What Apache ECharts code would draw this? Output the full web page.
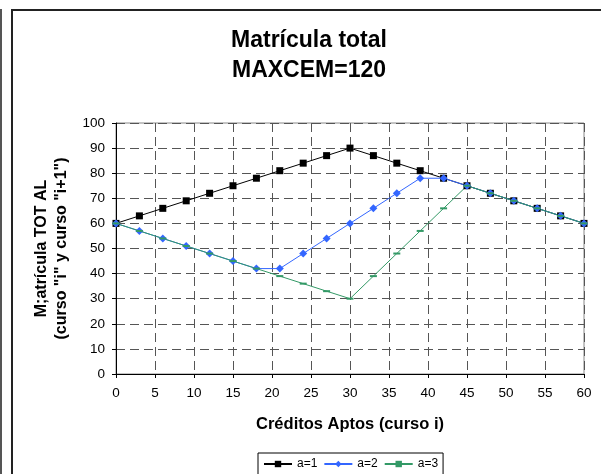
<!DOCTYPE html>
<html>
<head>
<meta charset="utf-8">
<script src="https://cdn.jsdelivr.net/npm/echarts@6/dist/echarts.min.js"></script>
<style>
  html, body { margin: 0; padding: 0; background: #fff; }
  #chart { width: 601px; height: 474px; }
</style>
</head>
<body>
<div id="chart"></div>
<script>
  // creditos aptos (curso i)
  var creditos = [0, 3, 6, 9, 12, 15, 18, 21, 24, 27, 30, 33, 36, 39, 42, 45, 48, 51, 54, 57, 60]
  // matricula total por serie
  var a1 = [60, 63, 66, 69, 72, 75, 78, 81, 84, 87, 90, 87, 84, 81, 78, 75, 72, 69, 66, 63, 60]
  var a2 = [60, 57, 54, 51, 48, 45, 42, 42, 48, 54, 60, 66, 72, 78, 78, 75, 72, 69, 66, 63, 60]
  var a3 = [60, 57, 54, 51, 48, 45, 42, 39, 36, 33, 30, 39, 48, 57, 66, 75, 72, 69, 66, 63, 60]
  var nombres = ['a=1', 'a=2', 'a=3']

  function pares(ys) {
    return creditos.map(function (x, i) { return [x, ys[i]] })
  }

  var fuente = 'Liberation Sans, Arial, sans-serif'
  var chart = echarts.init(document.getElementById('chart'))

  var option = {
    animation: false,
    textStyle: { fontFamily: fuente, color: '#000' },
    title: {
      text: 'Matrícula total\nMAXCEM=120',
      left: 304,
      textAlign: 'center',
      top: 21,
      textStyle: { fontSize: 23, fontWeight: 'bold', color: '#000', lineHeight: 30, fontFamily: fuente }
    },
    graphic: [
      { type: 'rect', shape: { x: 12, y: 10, width: 600, height: 480 }, style: { fill: 'none', stroke: '#222', lineWidth: 2 }, silent: true },
      { type: 'line', shape: { x1: 1, y1: 9, x2: 1, y2: 474 }, style: { stroke: '#555', lineWidth: 2 }, silent: true }
    ],
    legend: {
      data: nombres,
      left: 258,
      top: 453,
      itemWidth: 28,
      itemHeight: 8,
      itemGap: 6,
      padding: [5, 5, 8, 5],
      borderColor: '#000',
      borderWidth: 1,
      textStyle: { fontSize: 12, color: '#000', fontFamily: fuente }
    },
    grid: {
      left: 116, right: 17, top: 123, bottom: 100,
      show: true, borderColor: '#888', borderWidth: 1
    },
    xAxis: {
      type: 'value',
      min: 0, max: 60, interval: 5,
      name: 'Créditos Aptos (curso i)',
      nameLocation: 'middle',
      nameGap: 42,
      nameTextStyle: { fontSize: 16.5, fontWeight: 'bold', color: '#000', fontFamily: fuente },
      axisLine: { lineStyle: { color: '#000', width: 1 } },
      axisTick: { length: 4, lineStyle: { color: '#000' } },
      axisLabel: { fontSize: 13.5, color: '#000', margin: 12, fontFamily: fuente },
      splitLine: { show: true, lineStyle: { color: '#555', type: [9, 5], width: 1 } }
    },
    yAxis: {
      type: 'value',
      min: 0, max: 100, interval: 10,
      name: 'M;atrícula TOT AL\n(curso "i" y curso "i+1")',
      nameLocation: 'middle',
      nameGap: 39,
      nameRotate: 90,
      nameTextStyle: { fontSize: 16, fontWeight: 'bold', color: '#000', lineHeight: 20, fontFamily: fuente },
      axisLine: { show: true, lineStyle: { color: '#000', width: 1 } },
      axisTick: { show: true, length: 4, lineStyle: { color: '#000' } },
      axisLabel: { fontSize: 13.5, color: '#000', margin: 11, fontFamily: fuente },
      splitLine: { show: true, lineStyle: { color: '#555', type: [9, 5], width: 1 } }
    },
    series: [
      {
        name: 'a=1', type: 'line', data: pares(a1),
        symbol: 'rect', symbolSize: 7,
        itemStyle: { color: '#000' },
        lineStyle: { color: '#000', width: 1 }
      },
      {
        name: 'a=2', type: 'line', data: pares(a2),
        symbol: 'diamond', symbolSize: 8,
        itemStyle: { color: '#3366ff' },
        lineStyle: { color: '#3366ff', width: 1 }
      },
      {
        name: 'a=3', type: 'line', data: pares(a3),
        symbol: 'rect', symbolSize: [7, 2],
        itemStyle: { color: '#339966' },
        lineStyle: { color: '#339966', width: 1 }
      }
    ]
  }

  chart.setOption(option)
</script>
</body>
</html>
